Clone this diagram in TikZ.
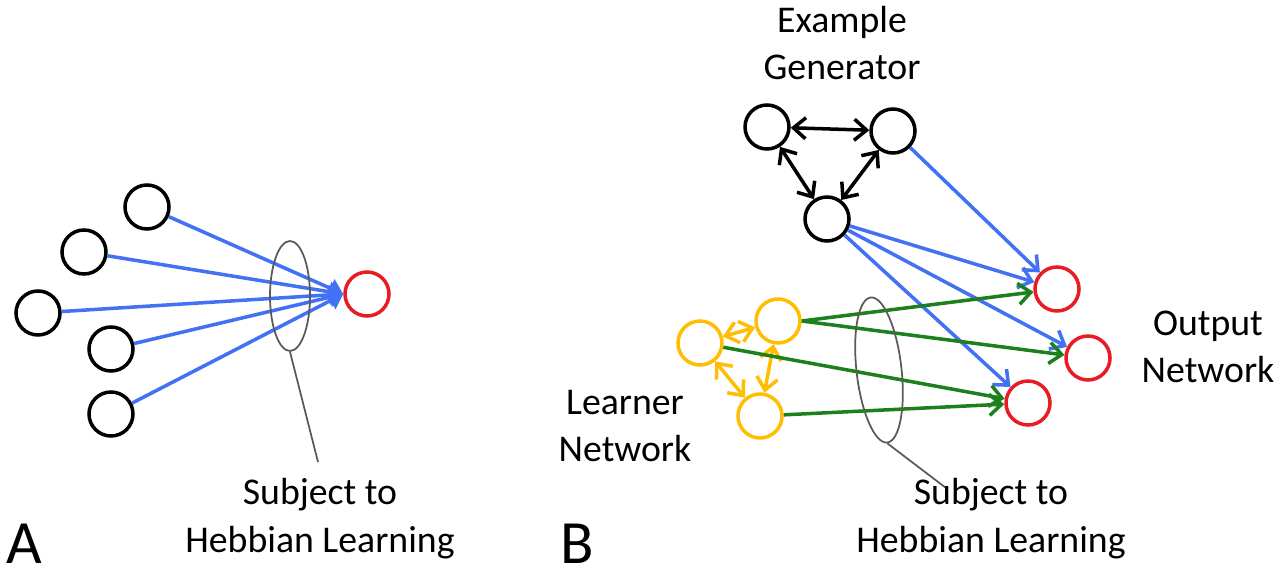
\documentclass[tikz,border=0pt]{standalone}
\usepackage{fontspec}
\setmainfont{Carlito}
\usetikzlibrary{arrows.meta,shapes.geometric}
\definecolor{myblue}{RGB}{66,114,243}
\definecolor{myred}{RGB}{232,28,36}
\definecolor{myyellow}{RGB}{255,190,0}
\definecolor{mygreen}{RGB}{28,128,28}
\definecolor{mygray}{RGB}{90,90,90}
\newcommand{\sizeneuron}{0.88cm}
\newcommand{\widthwire}{2pt}
\newcommand{\barb}{Straight Barb[length=7pt, width=12pt]}
\tikzset{
    neuron/.style={draw, circle, line width=\widthwire, minimum size=\sizeneuron, inner sep=0pt},
    outneuron/.style={neuron, draw=myred},
    learnneuron/.style={neuron, draw=myyellow},
    synapse/.style={line width=\widthwire, -{\barb}},
    mutual/.style={line width=\widthwire, {\barb}-{\barb}},
    hebb/.style={draw=mygray, line width=1pt, ellipse, inner sep=0pt},
    caption/.style={align=center, anchor=base, inner sep=0pt, font=\fontsize{21.5}{27}\selectfont},
    panel/.style={anchor=base west, inner sep=0pt, font=\fontsize{35}{40}\selectfont}
}

\begin{document}
\begin{tikzpicture}[x=0.02cm, y=-0.02cm]
    \useasboundingbox (0,0) rectangle (1280,573);

    % A
    \node[neuron] (a1) at (147,207) {};
    \node[neuron] (a2) at (84,252) {};
    \node[neuron] (a3) at (38,313) {};
    \node[neuron] (a4) at (111,349) {};
    \node[neuron] (a5) at (111,414) {};
    \node[outneuron] (ra) at (367,294) {};
    \foreach \i in {1,...,5}
        \draw[myblue, line width=\widthwire, -{Triangle[length=8pt, width=11pt]}] (a\i) -- (ra.west);
    \node[hebb, minimum width=0.8cm, minimum height=2.2cm] (ella) at (290,296) {};
    \coordinate (tipa) at (318,462);
    \draw[mygray, line width=1pt] (ella.south) -- (tipa);
    \node[caption] (capa) at (320,552) {Subject to\\Hebbian Learning};
    \node[panel] (pa) at (6,563) {A};

    % B
    \node[neuron] (g1) at (767,127) {};
    \node[neuron] (g2) at (893,131) {};
    \node[neuron] (g3) at (827,219) {};
    \node[outneuron] (r1) at (1057,289) {};
    \node[outneuron] (r2) at (1088,358) {};
    \node[outneuron] (r3) at (1028,403) {};
    \node[learnneuron] (y1) at (700,343) {};
    \node[learnneuron] (y2) at (778,321) {};
    \node[learnneuron] (y3) at (760,416) {};

    \draw[mutual] (g1) -- (g2);
    \draw[mutual] (g1) -- (g3);
    \draw[mutual] (g2) -- (g3);
    \draw[mutual, myyellow] (y1) -- (y2);
    \draw[mutual, myyellow] (y1) -- (y3);
    \draw[mutual, myyellow] (y2) -- (y3);

    \draw[synapse, myblue] (g2) -- (r1);
    \draw[synapse, myblue] (g3) -- (r1);
    \draw[synapse, myblue] (g3) -- (r2);
    \draw[synapse, myblue] (g3) -- (r3);
    \draw[synapse, mygreen] (y2.east) -- (r1);
    \draw[synapse, mygreen] (y2.east) -- (r2);
    \draw[synapse, mygreen] (y1) -- (r3);
    \draw[synapse, mygreen] (y3) -- (r3);

    \node[hebb, minimum width=0.9cm, minimum height=2.92cm, rotate=6.5] (ellb) at (879,370) {};
    \coordinate (tipb) at (946,488);
    \draw[mygray, line width=1pt] (ellb.south) -- (tipb);

    \node[caption] (capgen) at (842,80) {Example\\Generator};
    \node[caption] (capout) at (1208,383) {Output\\Network};
    \node[caption] (caplearn) at (625,462) {Learner\\Network};
    \node[caption] (capb) at (991,552) {Subject to\\Hebbian Learning};
    \node[panel] (pb) at (560,563) {B};
\end{tikzpicture}
\end{document}
